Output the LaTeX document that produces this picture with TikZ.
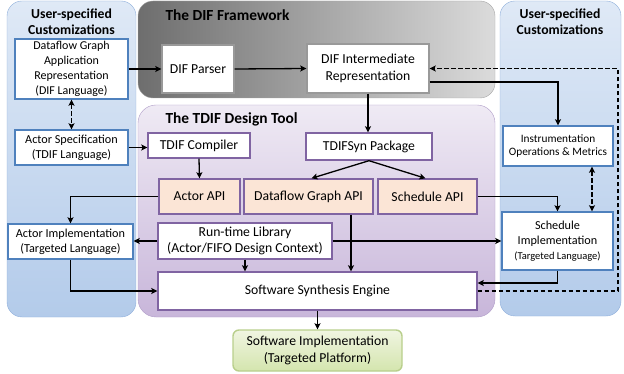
\documentclass[tikz,border=0pt]{standalone}
\usepackage{fontspec}
\setmainfont{Carlito}
\usepackage{xcolor}
\usetikzlibrary{calc, arrows.meta}

\definecolor{userblue}{HTML}{4F81BD}
\definecolor{tdifpurple}{HTML}{8064A2}
\definecolor{apipeach}{HTML}{FBE5D6}
\definecolor{panelblueline}{HTML}{8EAEDB}
\definecolor{panelbluetop}{HTML}{DFE9F6}
\definecolor{panelbluebottom}{HTML}{B3CBEA}
\definecolor{panelpurpleline}{HTML}{AE9BC7}
\definecolor{panelpurpletop}{HTML}{EFEAF4}
\definecolor{panelpurplebottom}{HTML}{C8B6DA}
\definecolor{panelgreenline}{HTML}{B9CF8C}
\definecolor{panelgreentop}{HTML}{F0F5E1}
\definecolor{panelgreenbottom}{HTML}{D4E5AE}

\tikzset{
	box/.style = {draw, fill = white, line width = 1.4pt, align = center, inner sep = 1pt},
	userbox/.style = {box, draw = userblue},
	difbox/.style = {box, draw = gray!80},
	tdifbox/.style = {box, draw = tdifpurple},
	apibox/.style = {tdifbox, fill = apipeach},
	bigtext/.style = {font = \fontsize{13.7}{16.5}\selectfont},
	midtext/.style = {font = \fontsize{12.2}{15}\selectfont},
	smalltext/.style = {font = \fontsize{11.3}{13.5}\selectfont},
	paneltitle/.style = {font = \bfseries\fontsize{13.7}{16}\selectfont, align = center},
	frametitle/.style = {anchor = west, font = \bfseries\fontsize{15.4}{18}\selectfont},
	dashline/.style = {dash pattern = on 4.5pt off 2.5pt},
	>= {Stealth[length = 6pt, width = 6pt, inset = 1.2pt]}
}

\begin{document}
\begin{tikzpicture}[x = 1pt, y = -1pt]
	\useasboundingbox (0,0) rectangle (624,374);

	% panels
	\shadedraw [rounded corners = 15pt, draw = panelblueline, top color = panelbluetop, bottom color = panelbluebottom] (7,1) rectangle (136,317);
	\shadedraw [rounded corners = 15pt, draw = panelblueline, top color = panelbluetop, bottom color = panelbluebottom] (500,1) rectangle (621,316);
	\shadedraw [rounded corners = 15pt, draw = gray!70, left color = black!57, right color = black!14] (138,1) rectangle (495,98);
	\shadedraw [rounded corners = 18pt, draw = panelpurpleline, top color = panelpurpletop, bottom color = panelpurplebottom] (138,105) rectangle (495,317);

	\node (lefttitle) [paneltitle] at (71.5,21.5) {User-specified\\Customizations};
	\node (righttitle) [paneltitle] at (560,21.5) {User-specified\\Customizations};
	\node (diftitle) [frametitle] at (162,15) {The DIF Framework};
	\node (tdiftitle) [frametitle] at (162,119) {The TDIF Design Tool};

	% boxes
	\node (appgraph) [userbox, font = \fontsize{12}{14.8}\selectfont, minimum width = 113pt, minimum height = 60pt] at (71.5,69) {Dataflow Graph\\Application\\Representation\\(DIF Language)};
	\node (actorspec) [userbox, midtext, minimum width = 113pt, minimum height = 35pt] at (71.5,147.5) {Actor Specification\\(TDIF Language)};
	\node (actorimpl) [userbox, midtext, minimum width = 125pt, minimum height = 35pt] at (70.5,241.5) {Actor Implementation\\(Targeted Language)};

	\node (parser) [difbox, bigtext, minimum width = 72pt, minimum height = 48pt] at (198,69) {DIF Parser};
	\node (difir) [difbox, bigtext, minimum width = 122pt, minimum height = 49pt] at (368,68.5) {DIF Intermediate\\Representation};

	\node (compiler) [tdifbox, bigtext, minimum width = 102pt, minimum height = 25pt] at (199,145.5) {TDIF Compiler};
	\node (synpkg) [tdifbox, bigtext, minimum width = 126pt, minimum height = 27pt] at (369,146.5) {TDIFSyn Package};
	\node (actorapi) [apibox, bigtext, minimum width = 81pt, minimum height = 35pt] at (199.5,196.5) {Actor API};
	\node (graphapi) [apibox, bigtext, minimum width = 129pt, minimum height = 35pt] at (308.5,196.5) {Dataflow Graph API};
	\node (schedapi) [apibox, bigtext, minimum width = 99pt, minimum height = 35pt] at (427.5,196.5) {Schedule API};
	\node (runtime) [tdifbox, bigtext, minimum width = 174pt, minimum height = 36pt] at (245,241) {Run-time Library\\(Actor/FIFO Design Context)};
	\node (engine) [tdifbox, bigtext, minimum width = 319pt, minimum height = 38pt] at (317.5,291) {Software Synthesis Engine};

	\node (instr) [userbox, smalltext, minimum width = 110pt, minimum height = 40pt] at (558,146) {Instrumentation\\Operations \& Metrics};
	\node (schedimpl) [userbox, midtext, minimum width = 111pt, minimum height = 58pt] at (557.5,241) {Schedule\\Implementation\\{\fontsize{10.5}{14}\selectfont (Targeted Language)}};

	\node (swimpl) [box, bigtext, rounded corners = 6pt, draw = panelgreenline, top color = panelgreentop, bottom color = panelgreenbottom, minimum width = 169pt, minimum height = 41pt] at (317.5,350.5) {Software Implementation\\(Targeted Platform)};

	\coordinate (dashside) at (618,0);

	% connectors
	\begin{scope}[->, line width = 1.3pt]
		\draw (appgraph.east) -- (parser.west);
		\draw (parser.east) -- (difir.west);
		\draw [dashline, <->] (appgraph.south) -- (actorspec.north);
		\draw (actorspec.east) -- (actorspec.east -| compiler.west);
		\draw (difir.south) -- (difir.south |- synpkg.north);
		\draw ([yshift = -13.5pt]difir.east) -| (instr.north);
		\draw [dashline] (engine.east) -- (engine.east -| dashside) |- (difir.east);
		\draw [dashline, <->] ([xshift = 34pt]instr.south) -- ([xshift = 34pt]instr.south |- schedimpl.north);
		\draw (compiler.south) -- (actorapi.north);
		\draw (synpkg.south) -- ([xshift = 3pt]graphapi.north);
		\draw (synpkg.south) -- ([xshift = -2pt]schedapi.north);
		\draw (schedapi.east) -| (schedimpl.north);
		\draw (actorapi.west) -| (actorimpl.north);
		\draw (runtime.west) -- (runtime.west -| actorimpl.east);
		\draw (runtime.east) -- (runtime.east -| schedimpl.west);
		\draw (runtime.south) -- (runtime.south |- engine.north);
		\draw ([xshift = 42.5pt]graphapi.south) -- ([xshift = 42.5pt]graphapi.south |- engine.north);
		\draw (schedimpl.south) |- ([yshift = 8pt]engine.east);
		\draw (actorimpl.south) |- (engine.west);
		\draw (engine.south) -- (swimpl.north);
	\end{scope}
\end{tikzpicture}
\end{document}
